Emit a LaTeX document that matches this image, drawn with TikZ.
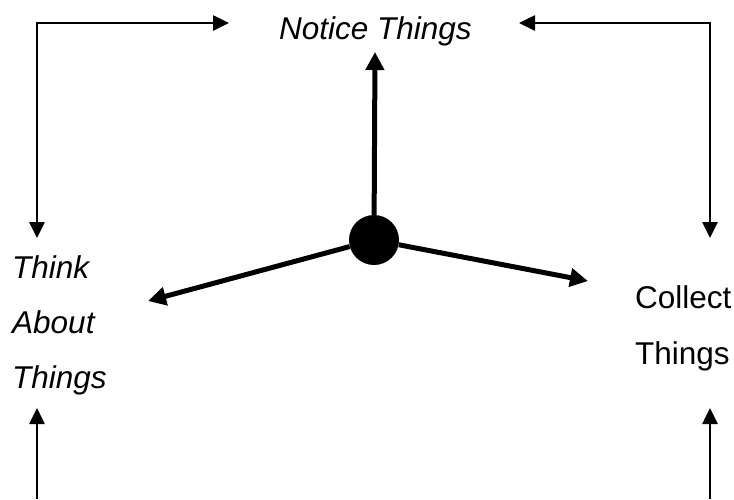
\documentclass[tikz,border=0pt]{standalone}
\usepackage{fontspec}
\setmainfont{Liberation Sans}
\usetikzlibrary{arrows.meta}
\begin{document}
\begin{tikzpicture}[x=1pt,y=-1pt,
  lbl/.style={inner sep=0pt,font=\fontsize{31.5}{37}\selectfont},
  ilbl/.style={lbl,font=\fontsize{31.5}{37}\selectfont\itshape},
  thin/.style={line width=2.6pt,-{Triangle[length=16pt,width=15pt]}},
  thinboth/.style={line width=2.6pt,{Triangle[length=16pt,width=15pt]}-{Triangle[length=16pt,width=15pt]}},
  thick/.style={line width=5pt,-{Triangle[length=18pt,width=18pt]}}]
\useasboundingbox (0,0) rectangle (734,499);
% labels
\node[ilbl,anchor=base] (notice) at (375.5,39) {Notice Things};
\node[ilbl,anchor=base west] (think) at (12,278) {Think};
\node[ilbl,anchor=base west] (about) at (12,333) {About};
\node[ilbl,anchor=base west] (thingsL) at (12,388) {Things};
\node[lbl,anchor=base west] (collect) at (635,308) {Collect};
\node[lbl,anchor=base west] (thingsR) at (635,364) {Things};
% hub
\node[circle,fill=black,minimum size=50pt,inner sep=0pt] (hub) at (374,240) {};
% coordinates
\coordinate (tlA) at (37,238);
\coordinate (tlB) at (229,23);
\coordinate (trA) at (710,238);
\coordinate (trB) at (519,23);
\coordinate (blA) at (37,499);
\coordinate (blB) at (37,408);
\coordinate (brA) at (710,499);
\coordinate (brB) at (710,408);
\coordinate (up) at (375,52);
\coordinate (lft) at (148,301);
\coordinate (rgt) at (588,281);
% connectors
\draw[thinboth] (tlA) |- (tlB);
\draw[thinboth] (trA) |- (trB);
\draw[thin] (blA) -- (blB);
\draw[thin] (brA) -- (brB);
\draw[thick] (hub) -- (up);
\draw[thick] (hub) -- (lft);
\draw[thick] (hub) -- (rgt);
\end{tikzpicture}
\end{document}
